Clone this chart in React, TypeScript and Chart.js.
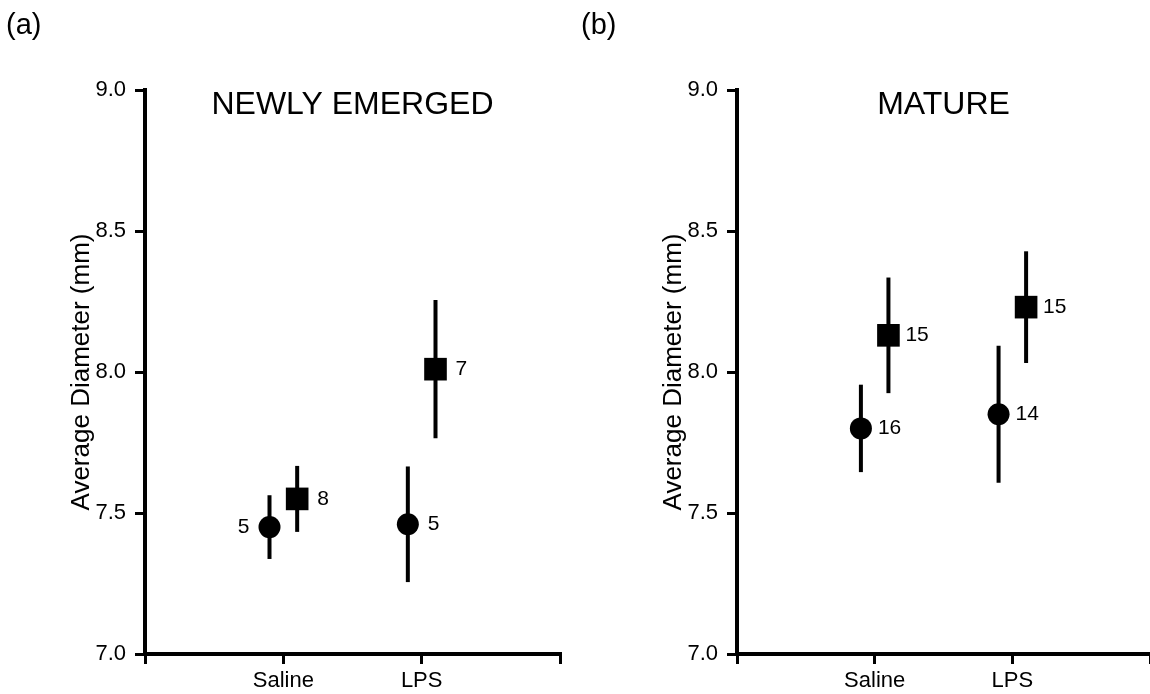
import React, { useEffect, useRef } from 'react';
import { Chart, registerables } from 'chart.js';

Chart.register(...registerables);

// ---------- data ----------
const xTickLabels = ['', 'Saline', 'LPS', ''];
const yMin = 7.0;
const yMax = 9.0;
const yStep = 0.5;

const panelLabels = ['(a)', '(b)'];
const panelTitles = ['NEWLY EMERGED', 'MATURE'];
const yAxisTitle = 'Average Diameter (mm)';

// (a) Newly emerged
const newlyCircleX = [0.9, 1.9];
const newlyCircleMean = [7.45, 7.46];
const newlyCircleErr = [0.113, 0.205];
const newlyCircleN = ['5', '5'];
const newlyCircleNSide = ['left', 'right'];
const newlySquareX = [1.1, 2.1];
const newlySquareMean = [7.55, 8.01];
const newlySquareErr = [0.117, 0.245];
const newlySquareN = ['8', '7'];
const newlySquareNSide = ['right', 'right'];

// (b) Mature
const matureCircleX = [0.9, 1.9];
const matureCircleMean = [7.8, 7.85];
const matureCircleErr = [0.155, 0.243];
const matureCircleN = ['16', '14'];
const matureCircleNSide = ['right', 'right'];
const matureSquareX = [1.1, 2.1];
const matureSquareMean = [8.13, 8.23];
const matureSquareErr = [0.205, 0.198];
const matureSquareN = ['15', '15'];
const matureSquareNSide = ['right', 'right'];

// ---------- styling ----------
const FONT = '"Liberation Sans", Arial, Helvetica, sans-serif';

type Series = {
  x: number[];
  mean: number[];
  err: number[];
  n: string[];
  side: string[];
  style: 'circle' | 'rect';
};

type Panel = {
  label: string;
  title: string;
  series: Series[];
  yAxisWidth: number;
  padRight: number;
  nOffset: number;
};

const panels: Panel[] = [
  {
    label: panelLabels[0],
    title: panelTitles[0],
    series: [
      { x: newlyCircleX, mean: newlyCircleMean, err: newlyCircleErr, n: newlyCircleN, side: newlyCircleNSide, style: 'circle' },
      { x: newlySquareX, mean: newlySquareMean, err: newlySquareErr, n: newlySquareN, side: newlySquareNSide, style: 'rect' },
    ],
    yAxisWidth: 145,
    padRight: 15,
    nOffset: 20,
  },
  {
    label: panelLabels[1],
    title: panelTitles[1],
    series: [
      { x: matureCircleX, mean: matureCircleMean, err: matureCircleErr, n: matureCircleN, side: matureCircleNSide, style: 'circle' },
      { x: matureSquareX, mean: matureSquareMean, err: matureSquareErr, n: matureSquareN, side: matureSquareNSide, style: 'rect' },
    ],
    yAxisWidth: 162,
    padRight: 0,
    nOffset: 17,
  },
];

function makePlugin(panel: Panel) {
  return {
    id: 'errAndText',
    beforeDatasetsDraw(chart: any) {
      const ctx = chart.ctx;
      const xs = chart.scales.x;
      const ys = chart.scales.y;
      ctx.save();
      ctx.strokeStyle = '#000';
      ctx.lineWidth = 4;
      ctx.lineCap = 'butt';
      panel.series.forEach((s) => {
        s.x.forEach((xv, i) => {
          const px = xs.getPixelForValue(xv);
          const top = ys.getPixelForValue(s.mean[i] + s.err[i]);
          const bot = ys.getPixelForValue(s.mean[i] - s.err[i]);
          ctx.beginPath();
          ctx.moveTo(px, top);
          ctx.lineTo(px, bot);
          ctx.stroke();
        });
      });
      ctx.restore();
    },
    afterDatasetsDraw(chart: any) {
      const ctx = chart.ctx;
      const xs = chart.scales.x;
      const ys = chart.scales.y;
      const area = chart.chartArea;
      ctx.save();
      ctx.fillStyle = '#000';
      // n labels
      ctx.font = `21px ${FONT}`;
      ctx.textBaseline = 'middle';
      panel.series.forEach((s) => {
        s.x.forEach((xv, i) => {
          const px = xs.getPixelForValue(xv);
          const py = ys.getPixelForValue(s.mean[i]);
          if (s.side[i] === 'left') {
            ctx.textAlign = 'right';
            ctx.fillText(s.n[i], px - panel.nOffset, py);
          } else {
            ctx.textAlign = 'left';
            ctx.fillText(s.n[i], px + panel.nOffset, py);
          }
        });
      });
      // title
      ctx.font = `32px ${FONT}`;
      ctx.textAlign = 'center';
      ctx.textBaseline = 'alphabetic';
      ctx.fillText(panel.title, (area.left + area.right) / 2, 114);
      // panel label
      ctx.font = `29px ${FONT}`;
      ctx.textAlign = 'left';
      ctx.fillText(panel.label, 6, 34);
      ctx.restore();
    },
  };
}

function PanelChart({ panel, left }: { panel: Panel; left: number }) {
  const ref = useRef<HTMLCanvasElement>(null);
  useEffect(() => {
    if (!ref.current) return;
    const datasets = panel.series.map((s) => ({
      data: s.x.map((xv, i) => ({ x: xv, y: s.mean[i] })),
      pointStyle: s.style,
      pointRadius: s.style === 'circle' ? 11 : 16,
      pointHoverRadius: s.style === 'circle' ? 11 : 16,
      backgroundColor: '#000',
      borderColor: '#000',
      borderWidth: 0,
      showLine: false,
    }));
    const chart = new Chart(ref.current, {
      type: 'scatter',
      data: { datasets },
      options: {
        responsive: false,
        animation: false,
        events: [],
        layout: { autoPadding: false, padding: { left: 0, top: 90, right: panel.padRight, bottom: 0 } },
        plugins: { legend: { display: false }, tooltip: { enabled: false }, title: { display: false } },
        scales: {
          x: {
            type: 'linear',
            min: 0,
            max: 3,
            afterFit: (s: any) => {
              s.height = 40;
              s.paddingLeft = 0;
              s.paddingRight = 0;
            },
            ticks: {
              stepSize: 1,
              autoSkip: false,
              maxRotation: 0,
              padding: 4,
              color: '#000',
              font: { family: FONT, size: 22 },
              callback: (v: any) => xTickLabels[Number(v)] ?? '',
            },
            grid: {
              drawOnChartArea: false,
              drawTicks: true,
              tickLength: 10,
              lineWidth: 3,
              color: '#000',
              tickColor: '#000',
            },
            border: { display: true, width: 4, color: '#000' },
          },
          y: {
            type: 'linear',
            min: yMin,
            max: yMax,
            afterFit: (s: any) => {
              s.width = panel.yAxisWidth;
            },
            ticks: {
              stepSize: yStep,
              padding: 9,
              color: '#000',
              font: { family: FONT, size: 22 },
              callback: (v: any) => Number(v).toFixed(1),
            },
            grid: {
              drawOnChartArea: false,
              drawTicks: true,
              tickLength: 10,
              lineWidth: 3,
              color: '#000',
              tickColor: '#000',
            },
            border: { display: true, width: 4, color: '#000' },
            title: {
              display: true,
              text: yAxisTitle,
              color: '#000',
              font: { family: FONT, size: 26 },
              padding: { top: panel.yAxisWidth - 145 + 66, bottom: 0 },
            },
          },
        },
      },
      plugins: [makePlugin(panel)],
    } as any);
    return () => chart.destroy();
  }, [panel]);
  return (
    <canvas
      ref={ref}
      width={575}
      height={694}
      style={{ position: 'absolute', left, top: 0, width: 575, height: 694, display: 'block' }}
    />
  );
}

export default function App() {
  return (
    <div style={{ position: 'fixed', left: 0, top: 0, width: 1150, height: 694, background: '#fff', overflow: 'hidden' }}>
      <PanelChart panel={panels[0]} left={0} />
      <PanelChart panel={panels[1]} left={575} />
    </div>
  );
}
